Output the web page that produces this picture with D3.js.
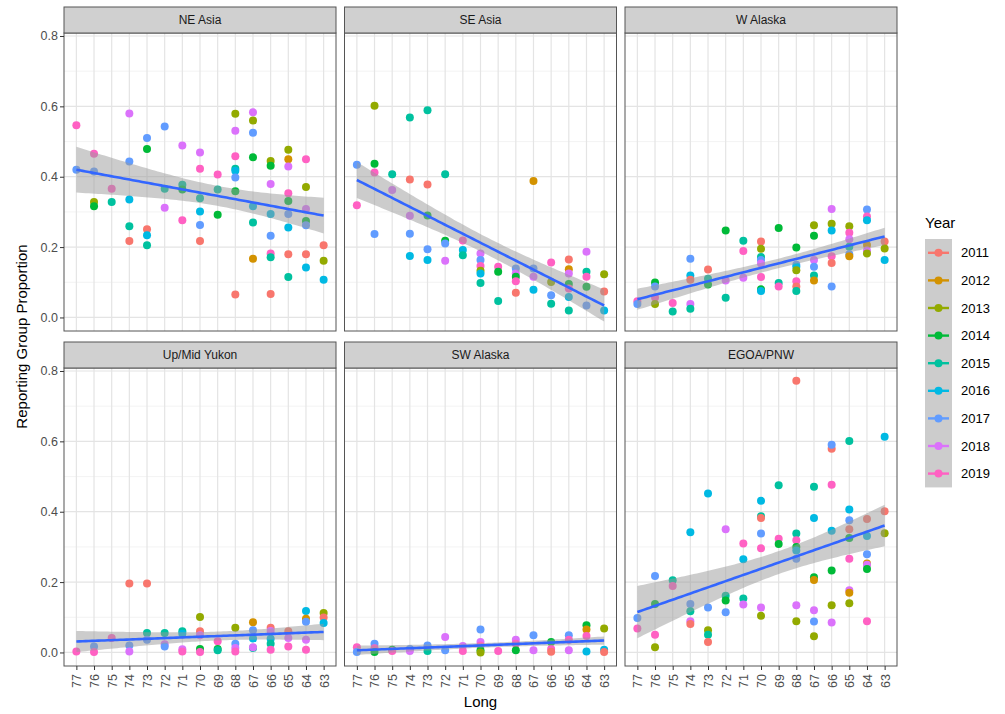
<!DOCTYPE html>
<html>
<head>
<meta charset="utf-8">
<script src="https://cdn.jsdelivr.net/npm/d3@7"></script>
<style>
  body { margin: 0; background: #fff; }
  svg { font-family: "Liberation Sans", Arial, sans-serif; }
</style>
</head>
<body>
<svg id="chart" width="1005" height="714"></svg>
<script>
const years = [2011, 2012, 2013, 2014, 2015, 2016, 2017, 2018, 2019];
const yearColors = ["#F8766D", "#D39200", "#93AA00", "#00BA38", "#00C19F", "#00B9E3", "#619CFF", "#DB72FB", "#FF61C3"];
const regions = ["NE Asia", "SE Asia", "W Alaska", "Up/Mid Yukon", "SW Alaska", "EGOA/PNW"];
const longTicks = [77, 76, 75, 74, 73, 72, 71, 70, 69, 68, 67, 66, 65, 64, 63];
const yTicks = [0, 0.2, 0.4, 0.6, 0.8];

// [Long, Year, proportion]
const neAsia = [
  [77,2019,0.546],[77,2017,0.42],
  [76,2019,0.465],[76,2017,0.415],[76,2013,0.328],[76,2014,0.316],
  [75,2019,0.366],[75,2015,0.328],
  [74,2018,0.58],[74,2017,0.443],[74,2016,0.335],[74,2015,0.259],[74,2011,0.217],
  [73,2017,0.51],[73,2014,0.479],[73,2011,0.251],[73,2016,0.234],[73,2015,0.205],
  [72,2017,0.543],[72,2015,0.366],[72,2018,0.312],
  [71,2018,0.489],[71,2015,0.377],[71,2014,0.364],[71,2019,0.276],
  [70,2018,0.469],[70,2019,0.423],[70,2015,0.339],[70,2016,0.301],[70,2017,0.263],[70,2011,0.217],
  [69,2019,0.406],[69,2015,0.364],[69,2014,0.292],
  [68,2013,0.579],[68,2018,0.531],[68,2019,0.458],[68,2015,0.423],[68,2016,0.417],[68,2017,0.398],[68,2014,0.359],[68,2011,0.065],
  [67,2018,0.583],[67,2013,0.56],[67,2017,0.525],[67,2014,0.455],[67,2016,0.316],[67,2015,0.27],[67,2012,0.167],
  [66,2013,0.445],[66,2014,0.431],[66,2018,0.379],[66,2016,0.294],[66,2017,0.232],[66,2019,0.182],[66,2015,0.171],[66,2011,0.067],
  [65,2013,0.477],[65,2012,0.45],[65,2018,0.429],[65,2019,0.353],[65,2014,0.331],[65,2017,0.294],[65,2016,0.256],[65,2011,0.18],[65,2015,0.115],
  [64,2019,0.45],[64,2013,0.371],[64,2018,0.308],[64,2014,0.274],[64,2017,0.262],[64,2011,0.18],[64,2016,0.142],
  [63,2011,0.205],[63,2013,0.161],[63,2016,0.107]
];
const seAsia = [
  [77,2017,0.434],[77,2019,0.319],
  [76,2013,0.602],[76,2014,0.437],[76,2019,0.412],[76,2017,0.237],
  [75,2015,0.407],[75,2018,0.362],
  [74,2015,0.568],[74,2011,0.392],[74,2018,0.289],[74,2017,0.238],[74,2016,0.175],
  [73,2015,0.589],[73,2011,0.378],[73,2014,0.29],[73,2017,0.194],[73,2016,0.163],
  [72,2015,0.407],[72,2014,0.218],[72,2017,0.21],[72,2018,0.161],
  [71,2019,0.219],[71,2016,0.192],[71,2015,0.177],
  [70,2018,0.182],[70,2017,0.163],[70,2019,0.146],[70,2013,0.133],[70,2016,0.125],[70,2015,0.098],
  [69,2019,0.144],[69,2014,0.13],[69,2015,0.047],
  [68,2017,0.139],[68,2018,0.125],[68,2014,0.116],[68,2019,0.103],[68,2011,0.07],
  [67,2012,0.388],[67,2017,0.139],[67,2018,0.116],[67,2016,0.079],
  [66,2019,0.156],[66,2013,0.101],[66,2017,0.063],[66,2015,0.039],
  [65,2011,0.165],[65,2012,0.137],[65,2018,0.125],[65,2014,0.095],[65,2019,0.082],[65,2016,0.058],[65,2015,0.02],
  [64,2018,0.187],[64,2015,0.13],[64,2019,0.116],[64,2014,0.087],[64,2017,0.034],
  [63,2013,0.123],[63,2011,0.074],[63,2016,0.02]
];
const wAlaska = [
  [77,2019,0.046],[77,2017,0.038],
  [76,2014,0.099],[76,2017,0.088],[76,2019,0.057],[76,2013,0.038],
  [75,2019,0.041],[75,2015,0.017],
  [74,2017,0.167],[74,2016,0.119],[74,2011,0.107],[74,2018,0.038],[74,2015,0.025],
  [73,2011,0.136],[73,2015,0.11],[73,2014,0.094],
  [72,2014,0.247],[72,2018,0.105],[72,2015,0.056],
  [71,2015,0.218],[71,2019,0.189],[71,2018,0.113],
  [70,2011,0.216],[70,2013,0.195],[70,2015,0.172],[70,2017,0.163],[70,2018,0.153],[70,2019,0.115],[70,2014,0.08],[70,2016,0.075],
  [69,2014,0.254],[69,2015,0.098],[69,2019,0.088],
  [68,2014,0.199],[68,2017,0.15],[68,2016,0.144],[68,2013,0.134],[68,2019,0.103],[68,2011,0.088],[68,2015,0.075],
  [67,2013,0.262],[67,2014,0.232],[67,2018,0.163],[67,2017,0.144],[67,2015,0.119],[67,2012,0.105],
  [66,2018,0.308],[66,2013,0.266],[66,2016,0.247],[66,2019,0.174],[66,2011,0.155],[66,2017,0.088],
  [65,2013,0.259],[65,2019,0.241],[65,2018,0.222],[65,2015,0.201],[65,2017,0.18],[65,2012,0.174],
  [64,2017,0.307],[64,2019,0.287],[64,2016,0.276],[64,2012,0.206],[64,2018,0.19],[64,2013,0.182],
  [63,2011,0.216],[63,2013,0.196],[63,2016,0.163]
];
const upMidYukon = [
  [77,2019,0.003],
  [76,2017,0.017],[76,2019,0.001],
  [75,2019,0.041],
  [74,2011,0.196],[74,2017,0.02],[74,2018,0.003],
  [73,2011,0.196],[73,2015,0.055],[73,2017,0.036],
  [72,2015,0.055],[72,2018,0.023],[72,2017,0.017],
  [71,2015,0.06],[71,2016,0.053],[71,2018,0.009],[71,2019,0.003],
  [70,2013,0.101],[70,2011,0.06],[70,2018,0.049],[70,2014,0.01],[70,2019,0.001],
  [69,2019,0.032],[69,2014,0.01],[69,2015,0.006],
  [68,2013,0.07],[68,2017,0.025],[68,2018,0.013],[68,2019,0.003],
  [67,2012,0.086],[67,2017,0.063],[67,2016,0.04],[67,2015,0.013],[67,2018,0.015],
  [66,2011,0.07],[66,2018,0.061],[66,2016,0.039],[66,2015,0.025],[66,2019,0.008],
  [65,2011,0.06],[65,2018,0.041],[65,2019,0.017],
  [64,2016,0.118],[64,2012,0.096],[64,2017,0.087],[64,2018,0.036],[64,2019,0.008],
  [63,2013,0.112],[63,2011,0.099],[63,2016,0.084]
];
const swAlaska = [
  [77,2019,0.015],[77,2017,0.001],
  [76,2017,0.025],[76,2019,0.012],[76,2014,0.001],
  [75,2014,0.008],[75,2019,0.004],
  [74,2017,0.01],[74,2018,0.004],
  [73,2017,0.02],[73,2015,0.004],
  [72,2018,0.044],[72,2017,0.006],
  [71,2018,0.018],[71,2019,0.004],
  [70,2017,0.065],[70,2018,0.03],[70,2019,0.02],[70,2014,0.006],[70,2013,0.0],
  [69,2019,0.004],
  [68,2018,0.036],[68,2019,0.025],[68,2014,0.006],
  [67,2017,0.049],[67,2018,0.006],
  [66,2014,0.03],[66,2019,0.01],[66,2011,0.002],
  [65,2017,0.049],[65,2019,0.036],[65,2018,0.006],
  [64,2014,0.077],[64,2012,0.065],[64,2019,0.047],[64,2016,0.003],
  [63,2013,0.068],[63,2016,0.008],[63,2011,0.001]
];
const egoaPnw = [
  [77,2017,0.098],[77,2019,0.068],
  [76,2017,0.217],[76,2014,0.138],[76,2019,0.05],[76,2013,0.015],
  [75,2015,0.205],[75,2019,0.189],
  [74,2016,0.342],[74,2017,0.138],[74,2015,0.117],[74,2018,0.089],[74,2011,0.081],
  [73,2016,0.452],[73,2017,0.128],[73,2013,0.063],[73,2015,0.05],[73,2011,0.03],
  [72,2018,0.35],[72,2015,0.161],[72,2014,0.148],[72,2017,0.114],
  [71,2019,0.31],[71,2016,0.265],[71,2015,0.153],[71,2018,0.136],
  [70,2016,0.431],[70,2015,0.387],[70,2011,0.382],[70,2017,0.338],[70,2019,0.296],[70,2018,0.128],[70,2013,0.104],
  [69,2015,0.475],[69,2019,0.323],[69,2014,0.308],
  [68,2011,0.772],[68,2015,0.338],[68,2019,0.319],[68,2014,0.3],[68,2016,0.29],[68,2017,0.266],[68,2018,0.134],[68,2013,0.089],
  [67,2015,0.471],[67,2016,0.382],[67,2014,0.214],[67,2012,0.206],[67,2018,0.12],[67,2017,0.088],[67,2013,0.046],
  [66,2011,0.579],[66,2017,0.59],[66,2019,0.477],[66,2016,0.346],[66,2014,0.233],[66,2013,0.134],[66,2018,0.085],
  [65,2015,0.601],[65,2016,0.406],[65,2017,0.376],[65,2011,0.35],[65,2014,0.325],[65,2019,0.266],[65,2018,0.177],[65,2012,0.17],[65,2013,0.14],
  [64,2011,0.379],[64,2016,0.331],[64,2017,0.279],[64,2012,0.253],[64,2018,0.249],[64,2014,0.237],[64,2019,0.089],
  [63,2016,0.613],[63,2011,0.401],[63,2013,0.339]
];
const regionData = [neAsia, seAsia, wAlaska, upMidYukon, swAlaska, egoaPnw];

const svg = d3.select("#chart");
const panelW = 272, panelH = 298, stripH = 26;
const colX = [64, 344.5, 625];
const rowY = [33, 368];

const color = d3.scaleOrdinal().domain(years).range(yearColors);
const x = d3.scaleLinear().domain([77.7, 62.3]).range([0, panelW]);
const y = d3.scaleLinear().domain([-0.0385, 0.8085]).range([panelH, 0]);

// linear fit with 95% confidence band (like geom_smooth(method = "lm"))
function lmFit(pts) {
  const n = pts.length;
  const mx = d3.mean(pts, d => d[0]), my = d3.mean(pts, d => d[2]);
  const sxx = d3.sum(pts, d => (d[0] - mx) ** 2);
  const sxy = d3.sum(pts, d => (d[0] - mx) * (d[2] - my));
  const b = sxy / sxx, a = my - b * mx;
  const s = Math.sqrt(d3.sum(pts, d => (d[2] - a - b * d[0]) ** 2) / (n - 2));
  const t = 1.96 + 2.4 / (n - 2);
  return d3.range(80).map(i => {
    const xv = 77 - i * 14 / 79;
    const fit = a + b * xv;
    const se = s * Math.sqrt(1 / n + (xv - mx) ** 2 / sxx);
    return {x: xv, fit: fit, lo: fit - t * se, hi: fit + t * se};
  });
}

regions.forEach((name, i) => {
  const row = Math.floor(i / 3), col = i % 3;
  const g = svg.append("g").attr("transform", `translate(${colX[col]},${rowY[row]})`);

  g.append("rect").attr("width", panelW).attr("height", panelH).attr("fill", "#fff");
  // grid
  g.selectAll(".minor").data([0.1, 0.3, 0.5, 0.7]).enter().append("line")
    .attr("x1", 0).attr("x2", panelW).attr("y1", d => y(d)).attr("y2", d => y(d))
    .attr("stroke", "#f0f0f0").attr("stroke-width", 0.8);
  g.selectAll(".majorY").data(yTicks).enter().append("line")
    .attr("x1", 0).attr("x2", panelW).attr("y1", d => y(d)).attr("y2", d => y(d))
    .attr("stroke", "#e4e4e4").attr("stroke-width", 1.2);
  g.selectAll(".majorX").data(longTicks).enter().append("line")
    .attr("y1", 0).attr("y2", panelH).attr("x1", d => x(d)).attr("x2", d => x(d))
    .attr("stroke", "#e4e4e4").attr("stroke-width", 1.2);

  // points
  g.selectAll("circle").data(regionData[i]).enter().append("circle")
    .attr("cx", d => x(d[0])).attr("cy", d => y(d[2])).attr("r", 4)
    .attr("fill", d => color(d[1]));

  // smooth
  const fit = lmFit(regionData[i]);
  g.append("path").datum(fit)
    .attr("d", d3.area().x(d => x(d.x)).y0(d => y(d.lo)).y1(d => y(d.hi)))
    .attr("fill", "#999").attr("opacity", 0.5);
  g.append("path").datum(fit)
    .attr("d", d3.line().x(d => x(d.x)).y(d => y(d.fit)))
    .attr("fill", "none").attr("stroke", "#3366FF").attr("stroke-width", 2.6);

  g.append("rect").attr("width", panelW).attr("height", panelH)
    .attr("fill", "none").attr("stroke", "#555").attr("stroke-width", 1);

  // strip
  const strip = svg.append("g").attr("transform", `translate(${colX[col]},${rowY[row] - stripH})`);
  strip.append("rect").attr("width", panelW).attr("height", stripH)
    .attr("fill", "#d0d0d0").attr("stroke", "#555").attr("stroke-width", 1);
  strip.append("text").attr("x", panelW / 2).attr("y", stripH / 2).attr("dy", "0.35em")
    .attr("text-anchor", "middle").attr("font-size", 12).attr("fill", "#1a1a1a").text(name);

  // y axis on first column
  if (col === 0) {
    const ya = g.append("g").call(d3.axisLeft(y).tickValues(yTicks).tickFormat(d3.format(".1f")).tickSize(4));
    ya.select(".domain").remove();
    ya.selectAll(".tick line").attr("stroke", "#333");
    ya.selectAll(".tick text").attr("fill", "#4d4d4d").attr("font-size", 12.5).attr("x", -6)
      .attr("font-family", "Liberation Sans, Arial, sans-serif");
  }
  // x axis on bottom row
  if (row === 1) {
    const xa = g.append("g").attr("transform", `translate(0,${panelH})`)
      .call(d3.axisBottom(x).tickValues(longTicks).tickFormat(d3.format("d")).tickSize(4));
    xa.select(".domain").remove();
    xa.selectAll(".tick line").attr("stroke", "#333");
    xa.selectAll(".tick text").attr("fill", "#4d4d4d").attr("font-size", 12.5)
      .attr("font-family", "Liberation Sans, Arial, sans-serif")
      .attr("transform", "rotate(-90)").attr("text-anchor", "end")
      .attr("x", -8).attr("y", 0).attr("dy", "0.35em");
  }
});

// axis titles
svg.append("text").attr("x", colX[0] + (colX[2] + panelW - colX[0]) / 2).attr("y", 707)
  .attr("text-anchor", "middle").attr("font-size", 15).attr("fill", "#000").text("Long");
svg.append("text").attr("transform", `translate(27,${(rowY[0] + rowY[1] + panelH) / 2 - 13}) rotate(-90)`)
  .attr("text-anchor", "middle").attr("font-size", 15).attr("fill", "#000").text("Reporting Group Proportion");

// legend
const legend = svg.append("g").attr("transform", "translate(925,239)");
legend.append("text").attr("x", 0).attr("y", -11).attr("font-size", 15).attr("fill", "#000").text("Year");
const keyH = 27.6, keyW = 27;
legend.append("rect").attr("width", keyW).attr("height", keyH * years.length)
  .attr("fill", "#999").attr("opacity", 0.5);
const keys = legend.selectAll(".key").data(years).enter().append("g")
  .attr("transform", (d, i) => `translate(0,${i * keyH + keyH / 2})`);
keys.append("line").attr("x1", 3).attr("x2", keyW - 3)
  .attr("stroke", d => color(d)).attr("stroke-width", 2.4);
keys.append("circle").attr("cx", keyW / 2).attr("r", 4).attr("fill", d => color(d));
keys.append("text").attr("x", 36).attr("dy", "0.35em").attr("font-size", 13).attr("fill", "#000").text(d => d);
</script>
</body>
</html>
